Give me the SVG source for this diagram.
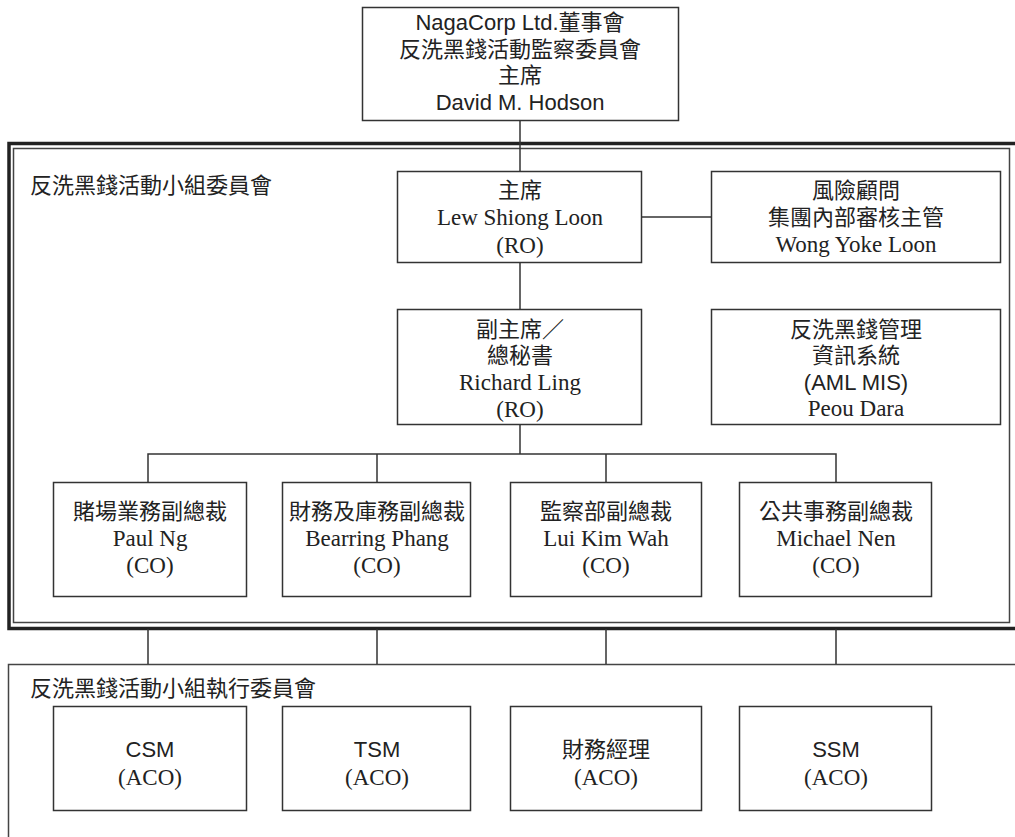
<svg xmlns="http://www.w3.org/2000/svg" width="1015" height="837" viewBox="0 0 1015 837">
<style>
.box{fill:#fff;stroke:#333;stroke-width:1.5}
.ln{stroke:#333;stroke-width:1.5;fill:none}
.zh{font-family:"Noto Sans CJK TC","Noto Sans CJK SC",sans-serif;font-size:22px;fill:#222;text-anchor:middle}
.en{font-family:"Liberation Serif",serif;font-size:23px;fill:#222;text-anchor:middle}
.sa{font-family:"Liberation Sans",sans-serif;font-size:22px;fill:#222;text-anchor:middle}
.lbl{font-family:"Noto Sans CJK TC","Noto Sans CJK SC",sans-serif;font-size:22px;fill:#222}
</style>
<rect width="1015" height="837" fill="#fff"/>
<g id="frames">
<path d="M1015,143.5 H9 V628.5 H1015" fill="none" stroke="#222" stroke-width="3.5"/>
<rect x="13.5" y="148.5" width="996" height="474" fill="none" stroke="#444" stroke-width="1.5"/>
<path d="M8.5,837 V664.5 H1015" fill="none" stroke="#444" stroke-width="1.5"/>
<text class="lbl" x="30" y="193">反洗黑錢活動小組委員會</text>
<text class="lbl" x="30" y="696">反洗黑錢活動小組執行委員會</text>
</g>
<g id="connectors">
<line class="ln" x1="520" y1="120" x2="520" y2="171"/>
<line class="ln" x1="642" y1="217" x2="711" y2="217"/>
<line class="ln" x1="520" y1="263" x2="520" y2="309"/>
<line class="ln" x1="520" y1="425" x2="520" y2="454"/>
<path class="ln" d="M148,482 V454 H836 V482 M377,454 V482 M606,454 V482"/>
<path class="ln" d="M148,629 V664 M377,629 V664 M606,629 V664 M836,629 V664"/>
</g>
<g id="board">
<rect class="box" x="362.5" y="7.5" width="316" height="113"/>
<text class="sa" x="520" y="30">NagaCorp Ltd.<tspan font-family="Noto Sans CJK TC,sans-serif">董事會</tspan></text>
<text class="zh" x="520" y="57">反洗黑錢活動監察委員會</text>
<text class="zh" x="520" y="83">主席</text>
<text class="sa" x="520" y="110">David M. Hodson</text>
</g>
<g id="chair">
<rect class="box" x="397.5" y="171.5" width="244" height="91"/>
<text class="zh" x="520" y="198">主席</text>
<text class="en" x="520" y="225">Lew Shiong Loon</text>
<text class="en" x="520" y="253">(RO)</text>
</g>
<g id="risk">
<rect class="box" x="711.5" y="171.5" width="289" height="91"/>
<text class="zh" x="856" y="198">風險顧問</text>
<text class="zh" x="856" y="225">集團內部審核主管</text>
<text class="en" x="856" y="252">Wong Yoke Loon</text>
</g>
<g id="vicechair">
<rect class="box" x="397.5" y="309.5" width="244" height="115"/>
<text class="zh" x="520" y="337">副主席／</text>
<text class="zh" x="520" y="363">總秘書</text>
<text class="en" x="520" y="390">Richard Ling</text>
<text class="en" x="520" y="417">(RO)</text>
</g>
<g id="amlmis">
<rect class="box" x="711.5" y="309.5" width="289" height="115"/>
<text class="zh" x="856" y="337">反洗黑錢管理</text>
<text class="zh" x="856" y="363">資訊系統</text>
<text class="sa" x="856" y="390">(AML MIS)</text>
<text class="en" x="856" y="416">Peou Dara</text>
</g>
<g id="co1">
<rect class="box" x="53.5" y="482.5" width="193" height="114"/>
<text class="zh" x="150" y="519">賭場業務副總裁</text>
<text class="en" x="150" y="546">Paul Ng</text>
<text class="en" x="150" y="573">(CO)</text>
</g>
<g id="co2">
<rect class="box" x="282.5" y="482.5" width="188" height="114"/>
<text class="zh" x="377" y="519">財務及庫務副總裁</text>
<text class="en" x="377" y="546">Bearring Phang</text>
<text class="en" x="377" y="573">(CO)</text>
</g>
<g id="co3">
<rect class="box" x="510.5" y="482.5" width="191" height="114"/>
<text class="zh" x="606" y="519">監察部副總裁</text>
<text class="en" x="606" y="546">Lui Kim Wah</text>
<text class="en" x="606" y="573">(CO)</text>
</g>
<g id="co4">
<rect class="box" x="739.5" y="482.5" width="192" height="114"/>
<text class="zh" x="836" y="519">公共事務副總裁</text>
<text class="en" x="836" y="546">Michael Nen</text>
<text class="en" x="836" y="573">(CO)</text>
</g>
<g id="csm">
<rect class="box" x="53.5" y="706.5" width="193" height="104"/>
<text class="sa" x="150" y="757">CSM</text>
<text class="en" x="150" y="785">(ACO)</text>
</g>
<g id="tsm">
<rect class="box" x="282.5" y="706.5" width="188" height="104"/>
<text class="sa" x="377" y="757">TSM</text>
<text class="en" x="377" y="785">(ACO)</text>
</g>
<g id="fm">
<rect class="box" x="510.5" y="706.5" width="191" height="104"/>
<text class="zh" x="606" y="757">財務經理</text>
<text class="en" x="606" y="785">(ACO)</text>
</g>
<g id="ssm">
<rect class="box" x="739.5" y="706.5" width="192" height="104"/>
<text class="sa" x="836" y="757">SSM</text>
<text class="en" x="836" y="785">(ACO)</text>
</g>
</svg>
